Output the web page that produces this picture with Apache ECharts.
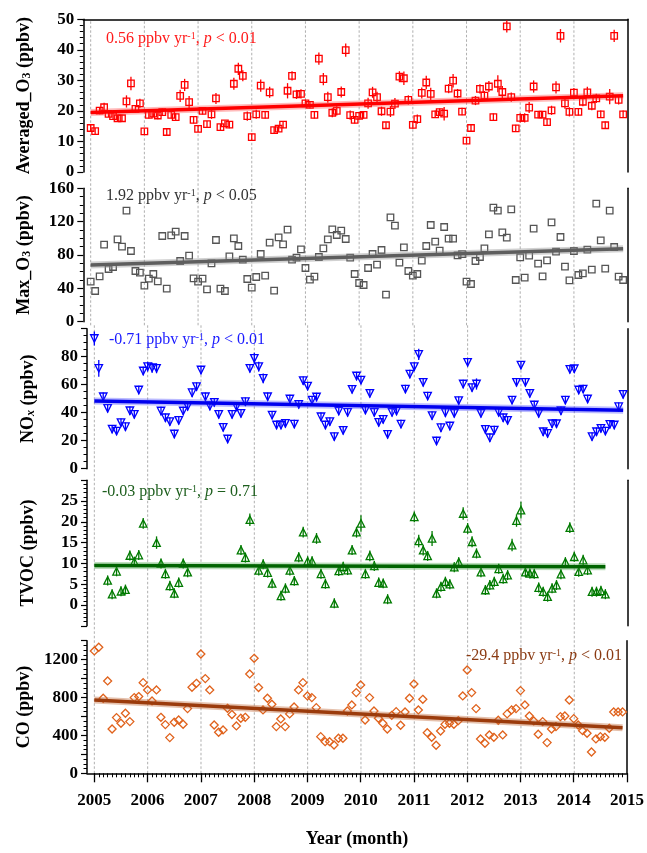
<!DOCTYPE html>
<html><head><meta charset="utf-8">
<script src="https://cdn.jsdelivr.net/npm/echarts@6/dist/echarts.min.js"></script>
<style>html,body{margin:0;padding:0;background:#fff}#c{width:647px;height:853px}</style>
</head><body><div id="c"></div>
<script>
// ---------- DATA ----------
const months = Array.from({length: 120}, (_, i) => i); // month index since Jan 2005
const yearTicks = [0, 12, 24, 36, 48, 60, 72, 84, 96, 108, 120];
const yearLabels = ['2005','2006','2007','2008','2009','2010','2011','2012','2013','2014','2015'];
const gridYears = [0, 12, 24, 36, 48, 60, 72, 84, 96, 108];
const monthTicks = Array.from({length: 121}, (_, i) => i);

const o3Ticks = [0, 10, 20, 30, 40, 50];
const maxTicks = [0, 40, 80, 120, 160];
const noxTicks = [0, 20, 40, 60, 80];
const tvocTicks = [0, 5, 10, 15, 20, 25];
const coTicks = [0, 400, 800, 1200];

const o3Avg = [14.4,13.4,20.1,21.2,19.0,18.3,17.6,17.6,23.1,29.0,20.7,22.5,
  13.3,18.7,19.1,18.5,19.6,13.1,18.7,18.0,24.9,28.5,22.9,17.1,
  14.1,20.0,15.7,18.9,24.1,14.7,15.9,15.5,28.9,33.8,31.5,18.3,
  11.4,18.9,28.3,18.7,26.1,13.7,14.2,15.5,26.6,31.5,25.4,25.6,
  22.5,22.0,18.7,37.1,30.4,24.5,19.4,20.0,26.2,39.9,18.6,17.1,
  18.4,18.7,22.5,26.1,24.5,19.9,15.3,19.8,22.4,31.2,30.7,23.6,
  15.4,17.3,25.9,29.3,25.6,18.9,19.6,19.1,27.3,29.9,25.7,19.8,
  10.3,14.4,23.4,27.2,25.0,28.0,18.0,28.9,26.2,47.7,24.5,14.3,
  17.7,17.7,21.1,28.0,18.8,18.8,16.3,20.2,27.7,44.6,22.5,19.7,
  26.0,19.7,23.0,26.1,21.7,24.1,18.9,15.3,24.7,44.6,23.6,18.9];
const errO3 = [1.2,1.0,1.2,1.5,1.0,1.0,1.2,1.2,2.0,2.2,1.2,1.5,
  1.0,1.2,1.2,1.2,1.2,1.0,1.2,1.2,2.0,2.0,2.0,1.2,
  1.0,1.2,1.0,1.5,1.8,1.0,1.0,1.2,2.0,2.0,1.8,1.5,
  1.2,1.5,2.0,1.2,1.8,1.0,1.0,1.2,2.5,1.5,1.5,1.5,
  1.2,1.2,1.2,2.0,2.0,1.8,1.5,1.5,1.8,2.2,1.5,1.2,
  1.2,1.2,1.8,1.8,1.8,1.5,1.0,1.8,1.8,1.8,2.2,1.5,
  1.2,1.5,1.8,2.2,2.0,1.2,1.2,2.2,1.5,2.2,1.5,1.2,
  1.0,1.2,1.5,1.5,1.5,1.8,1.2,2.8,2.0,2.0,1.5,1.2,
  1.5,1.5,1.8,2.0,1.2,1.2,1.2,1.5,2.0,2.2,1.8,1.5,
  1.5,1.2,1.5,1.8,1.5,1.5,1.2,1.2,2.5,2.0,1.5,1.2];
const o3Max = [48,36.8,54.4,92.4,63.2,65.6,98.8,90,133.2,84.8,60.8,58.8,
  43.2,51.6,57.2,48.4,102.8,39.6,103.6,108,72.8,102.8,79.2,52,
  48,51.6,38.8,70,98,39.6,36.8,78.4,100,90.8,74.4,51.2,
  40.8,53.6,81.2,55.2,94.8,37.2,101.2,92.8,110.4,74.4,76.8,86.8,
  64.4,50.4,54,77.6,88,98.8,110.8,104,109.2,99.2,76.8,57.2,
  46.4,44,64.4,81.2,68.4,86,32.4,125.2,115.2,70.8,89.2,60.8,
  55.2,57.2,73.2,90.8,116,96,85.2,113.6,99.6,99.6,79.6,81,
  48,45.2,72.8,77.6,88,104.8,136.8,133.2,107.2,100.8,134.8,50,
  77.2,52.8,79.2,111.6,69.6,54.4,73.6,119.2,84,101.6,66,49.6,
  84.8,56,58,86.4,62.4,141.6,97.6,63.6,133.2,89.6,54,50];
const nox = [93,71.7,51.4,43.1,28.3,26.9,32.9,30,41.4,38.8,56.2,69.8,
  72.9,72.1,71.7,41.2,36.4,33.6,24.8,34.5,41.2,44.5,54.3,58.6,
  70.5,51.4,44.8,47.4,38.8,29.5,21.2,38.8,44.3,39.5,47.9,71.7,
  78.8,72.9,64.5,51.4,38.3,31.2,31.2,32.4,49.8,31.9,46,62.9,
  59,49,51.2,37.1,31.2,33.6,22.9,41.2,27.4,40.2,56.7,66.2,
  63.3,41.9,53.8,40.2,33.1,35.2,24.5,40.2,41.2,31.9,56.9,67.6,
  72.9,81.7,61.7,51.9,37.9,19.8,29.3,40,30.5,39.5,48.6,60.5,
  76,57.9,60.5,39.5,28.1,22.1,27.6,40.2,36.4,34.5,49,61.7,
  74,61.7,53.8,45.5,39.5,26.4,25.2,32.1,32.1,41.4,49,71,
  71.4,56.2,56.9,49.8,22.9,26.4,28.8,26.9,31.7,31.2,44.3,53.1];
const errNOx = [5,6,3,3,3,3,3,3,3,3,3,3,
  3.5,3.5,3.5,3,3,3,3,3,3,3,3,3,
  3,3,3,3,3,3,3,3,3,3,3,3,
  4,3.5,3.5,3,3,3,3,3,3,3,3,3,
  3,3,3,3,3,3,3,3,3,3,3,3,
  3,3,3,3,3,3,3,3,3,3,3,3,
  3,4,3,3,3,3,3,3,3,3,3,3,
  3,3,4,3,3,3,3,3,3,3,3,3,
  3,3,3,3,3,3,3,3,3,3,3,3,
  3,3,3,3,3,3,3,3,3,3,3,3];
const tvoc = [null,null,null,5.9,2.6,8.1,3.3,3.7,11.9,10.4,12.0,19.6,
  null,null,15.0,10.0,7.5,4.6,2.8,5.4,10.0,7.9,null,null,
  null,null,null,null,null,null,null,null,null,13.2,11.4,20.5,
  null,8.3,9.8,7.8,5.2,null,2.2,4.0,8.3,5.8,11.5,17.5,
  10.5,10.5,16.0,7.5,5.1,null,0.4,8.2,9.2,8.4,13.2,17.5,
  19.6,7.5,11.8,9.4,5.4,5.2,1.4,null,null,null,null,null,
  21.2,15.4,13.2,11.8,16.0,2.8,4.4,5.6,5.0,9.1,10.3,22.0,
  18.4,15.2,12.4,7.9,3.6,4.8,5.6,8.7,6.3,7.2,14.4,20.3,
  22.8,7.9,7.6,7.5,4.2,3.2,2.0,4.0,4.8,7.4,10.3,18.6,
  11.6,8.0,10.8,8.4,3.2,3.2,3.4,2.6,null,null,null,null];
const errTVOC = [0,0,0,1.2,1.2,1.2,1.2,1.2,1.2,1.2,1.2,1.3,
  0,0,1.5,1.2,1.2,1.2,1.2,1.2,1.2,1.2,0,0,
  0,0,0,0,0,0,0,0,0,1.2,1.2,1.5,
  0,1.2,1.2,1.2,1.2,0,1.2,1.2,1.2,1.2,1.2,1.3,
  1.2,1.2,1.3,1.2,1.2,0,1.2,1.2,1.2,1.2,1.2,1.3,
  2.0,1.2,1.3,1.2,1.2,1.2,1.2,0,0,0,0,0,
  1.3,1.5,1.3,1.2,1.8,1.2,1.2,1.2,1.2,1.2,1.2,1.5,
  1.3,1.3,1.2,1.2,1.2,1.2,1.2,1.2,1.2,1.2,1.5,1.5,
  2.0,1.2,1.2,1.2,1.2,1.2,1.2,1.2,1.2,1.2,1.2,1.3,
  1.2,1.2,1.3,1.2,1.2,1.2,1.2,1.2,0,0,0,0];
const co = [1292,1331,792,975,468,588,528,634,546,799,810,957,
  880,764,880,591,514,377,539,563,517,683,908,950,
  1260,1000,880,510,433,458,686,620,500,581,591,1049,
  1214,905,669,792,729,493,574,493,627,700,880,957,
  817,799,693,387,334,334,299,370,370,658,722,852,
  933,563,799,658,581,528,468,612,651,507,648,792,
  943,669,781,429,380,296,447,517,528,517,556,817,
  1091,852,683,363,317,405,380,560,405,627,669,683,
  873,722,605,553,412,546,324,468,493,598,605,774,
  577,510,450,422,225,363,387,380,475,648,648,648];

// regression lines (end points)
const trendX = [0, 119];
const trendXTvoc = [0, 115];
const trendO3 = [19.5, 25.0];
const trendMax = [68, 87.5];
const trendNOx = [48.3, 41.7];
const trendTVOC = [9.5, 9.2];
const trendCO = [774, 482];

// ---------- CHART ----------
const FONT = '"Liberation Serif","Times New Roman",serif';
const XMIN = -1.65, XMAX = 120;

const panels = [
  {vals:o3Avg, err:errO3, tx:trendX, ty:trendO3, sym:'rect', rot:0, size:6.5, color:'#ff0000', line:'#ff0000', halo:'rgba(255,60,60,0.35)',
   min:0, max:50, interval:10, minor:5, ticks:o3Ticks, left:83.3, top:19.3, height:152.7,
   name:'{b|Averaged_O}{s|3}{b| (ppbv)}'},
  {vals:o3Max, err:null, tx:trendX, ty:trendMax, sym:'rect', rot:0, size:6.5, color:'#555555', line:'#5e5e5e', halo:'rgba(140,140,140,0.4)',
   min:0, max:160, interval:40, minor:4, ticks:maxTicks, left:83.3, top:188.3, height:133.4,
   name:'{b|Max_O}{s|3}{b| (ppbv)}'},
  {vals:nox, err:errNOx, tx:trendX, ty:trendNOx, sym:'triangle', rot:180, size:7.5, color:'#0000ff', line:'#0000ee', halo:'rgba(60,60,255,0.35)',
   min:0, max:100, interval:20, minor:4, ticks:noxTicks, left:87, top:328.7, height:140,
   name:'{b|NO}{si|x}{b| (ppbv)}'},
  {vals:tvoc, err:errTVOC, tx:trendXTvoc, ty:trendTVOC, sym:'triangle', rot:0, size:7.5, color:'#007a00', line:'#006400', halo:'rgba(60,160,60,0.35)',
   min:-5, max:30, interval:5, minor:5, ticks:tvocTicks, left:87, top:480.2, height:145.6,
   name:'{b|TVOC (ppbv)}'},
  {vals:co, err:null, tx:trendX, ty:trendCO, sym:'diamond', rot:0, size:8, color:'#e0621c', line:'#9b3b0c', halo:'rgba(190,100,50,0.4)',
   min:0, max:1400, interval:200, minor:4, ticks:coTicks, left:87, top:640.7, height:132.6,
   name:'{b|CO (ppbv)}'}
];

const nameRich = {
  b:{fontFamily:FONT, fontWeight:'bold', fontSize:18, color:'#000'},
  s:{fontFamily:FONT, fontWeight:'bold', fontSize:12, color:'#000', verticalAlign:'bottom'},
  si:{fontFamily:FONT, fontWeight:'bold', fontStyle:'italic', fontSize:12, color:'#000', verticalAlign:'bottom'}
};

const grid = [], xAxis = [], yAxis = [], series = [];
const RIGHT = 647 - 627.6;

panels.forEach((p, k) => {
  grid.push({left:p.left, right:RIGHT, top:p.top, height:p.height});
});
// helper grids for continuous dashed year lines
grid.push({left:83.3, right:RIGHT, top:19.3, height:306});
grid.push({left:87, right:RIGHT, top:325, height:448.3});

panels.forEach((p, k) => {
  const ax = {gridIndex:k, type:'value', min:XMIN, max:XMAX, show:(k===0||k===4),
    position: k===0 ? 'top' : 'bottom',
    axisLine:{show:true, onZero:false, lineStyle:{color:'#000', width:1.5}},
    axisTick:{show:false}, axisLabel:{show:false}, splitLine:{show:false}};
  if (k === 4) {
    ax.axisTick = {show:true, customValues:monthTicks, length:4, lineStyle:{color:'#000', width:1}};
    ax.axisLabel = {show:true, customValues:yearTicks, margin:19, fontFamily:FONT, fontWeight:'bold', fontSize:17, color:'#000',
      formatter: v => yearLabels[yearTicks.indexOf(v)] || ''};
    ax.name = 'Year (month)';
    ax.nameLocation = 'middle';
    ax.nameGap = 57;
    ax.nameTextStyle = {fontFamily:FONT, fontWeight:'bold', fontSize:18, color:'#000'};
  }
  xAxis.push(ax);
});
xAxis.push({gridIndex:5, type:'value', min:XMIN, max:XMAX, show:false});
xAxis.push({gridIndex:6, type:'value', min:XMIN, max:XMAX, show:false});
xAxis.push({gridIndex:4, type:'value', min:XMIN, max:XMAX, position:'bottom',
  axisLine:{show:false, onZero:false}, axisLabel:{show:false}, splitLine:{show:false},
  axisTick:{show:true, customValues:yearTicks, length:9, lineStyle:{color:'#000', width:1.3}}});

panels.forEach((p, k) => {
  yAxis.push({gridIndex:k, type:'value', min:p.min, max:p.max, interval:p.interval, position:'left',
    axisLine:{show:true, onZero:false, lineStyle:{color:'#000', width:1.5}},
    axisTick:{show:true, length:6, lineStyle:{color:'#000', width:1.2}},
    minorTick:{show:true, splitNumber:p.minor, length:3.5, lineStyle:{color:'#000', width:1}},
    splitLine:{show:false}, minorSplitLine:{show:false},
    axisLabel:{fontFamily:FONT, fontWeight:'bold', fontSize:17, color:'#000', margin:9,
      formatter: v => p.ticks.includes(v) ? String(v) : ''},
    name:p.name, nameLocation:'middle', nameRotate:90, nameGap:50,
    nameTextStyle:{rich:nameRich}
  });
});
panels.forEach((p, k) => {
  yAxis.push({gridIndex:k, type:'value', min:p.min, max:p.max, position:'right',
    axisLine:{show:true, onZero:false, lineStyle:{color:'#000', width:1.5}},
    axisTick:{show:false}, axisLabel:{show:false}, splitLine:{show:false}});
});
yAxis.push({gridIndex:5, type:'value', min:0, max:1, show:false});
yAxis.push({gridIndex:6, type:'value', min:0, max:1, show:false});

// dashed year lines
[5, 6].forEach(g => {
  series.push({type:'custom', xAxisIndex:g, yAxisIndex:g + 5, silent:true, z:0,
    data: gridYears.map(v => [v]),
    encode:{x:0},
    renderItem:(params, api) => {
      const a = api.coord([api.value(0), 0]);
      const b = api.coord([api.value(0), 1]);
      return {type:'line', shape:{x1:a[0], y1:a[1], x2:b[0], y2:b[1]},
        style:{stroke:'#9a9a9a', lineWidth:0.8, lineDash:[2.5, 2]}};
    }});
});

panels.forEach((p, k) => {
  const pts = months.filter(i => p.vals[i] != null).map(i => [i, p.vals[i]]);
  if (p.err) {
    series.push({type:'custom', xAxisIndex:k, yAxisIndex:k, silent:true, z:3,
      data: months.filter(i => p.vals[i] != null).map(i => [i, p.vals[i], p.err[i]]),
      encode:{x:0, y:1},
      renderItem:(params, api) => {
        const x = api.value(0), v = api.value(1), e = api.value(2);
        const a = api.coord([x, v - e]);
        const b = api.coord([x, v + e]);
        return {type:'line', shape:{x1:a[0], y1:a[1], x2:b[0], y2:b[1]},
          style:{stroke:p.color, lineWidth:1.3}};
      }});
  }
  series.push({type:'scatter', xAxisIndex:k, yAxisIndex:k, z:4, data:pts,
    symbol:p.sym, symbolRotate:p.rot, symbolSize:p.size,
    itemStyle:{color:'rgba(255,255,255,0)', borderColor:p.color, borderWidth:1.3, opacity:1}});
  const tr = p.tx.map((x, j) => [x, p.ty[j]]);
  series.push({type:'line', xAxisIndex:k, yAxisIndex:k, z:5, data:tr, showSymbol:false, silent:true,
    lineStyle:{color:p.halo, width:7}});
  series.push({type:'line', xAxisIndex:k, yAxisIndex:k, z:6, data:tr, showSymbol:false, silent:true,
    lineStyle:{color:p.line, width:3.5}});
});

function annot(txt, col, pos) {
  const base = {fontFamily:FONT, fontSize:16, fill:col};
  return Object.assign({type:'text', z:20, silent:true,
    style:{text:txt, rich:{
      n:base,
      s:Object.assign({}, base, {fontSize:10, verticalAlign:'top'}),
      i:Object.assign({}, base, {fontStyle:'italic'})
    }}}, pos);
}

const option = {
  animation:false,
  backgroundColor:'#fff',
  grid, xAxis, yAxis, series,
  graphic:[
    annot('{n|0.56 ppbv yr}{s|-1}{n|, }{i|p}{n| < 0.01}', '#ff1a1a', {left:106, top:31}),
    annot('{n|1.92 ppbv yr}{s|-1}{n|, }{i|p}{n| < 0.05}', '#333333', {left:106, top:188}),
    annot('{n|-0.71 ppbv yr}{s|-1}{n|, }{i|p}{n| < 0.01}', '#1a1aff', {left:109, top:332}),
    annot('{n|-0.03 ppbv yr}{s|-1}{n|, }{i|p}{n| = 0.71}', '#1d5e1d', {left:102, top:484}),
    annot('{n|-29.4 ppbv yr}{s|-1}{n|, }{i|p}{n| < 0.01}', '#8a3a12', {right:25, top:648})
  ]
};

const chart = echarts.init(document.getElementById('c'), null, {renderer:'canvas'});
chart.setOption(option);
</script>
</body></html>
